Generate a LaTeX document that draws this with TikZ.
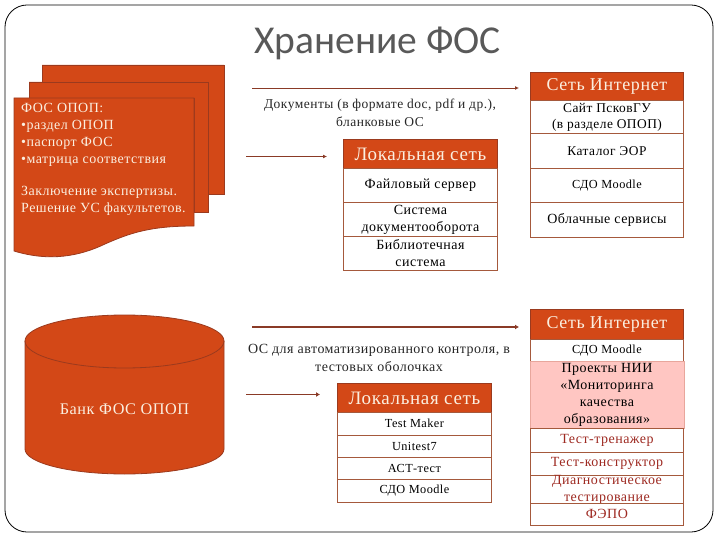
\documentclass[tikz,border=0pt]{standalone}
\usepackage{fontspec}
\usetikzlibrary{arrows.meta,calc}
\setmainfont[LetterSpace=3.5]{Liberation Serif}
\newfontfamily\titlefont{Carlito}
\definecolor{fosorange}{HTML}{D34817}
\definecolor{fosedge}{HTML}{9B3A1E}
\definecolor{fosline}{HTML}{A5593C}
\definecolor{fospink}{HTML}{FFC6C2}
\definecolor{fospinkline}{HTML}{E8A69C}
\definecolor{fosred}{HTML}{9E2A22}
\definecolor{foscream}{HTML}{FBEFE0}
\definecolor{fosarrow}{HTML}{8A3A26}
\tikzset{
  px/.style={x=1pt,y=-1pt},
  rowbox/.style={draw=fosline,line width=0.9pt,fill=white,inner sep=0pt,align=center,text=black,font=\fontsize{14}{17}\selectfont,anchor=north west},
  smallrow/.style={rowbox,font=\fontsize{12.3}{15}\selectfont},
  webrow/.style={rowbox,font=\fontsize{13.4}{16}\selectfont},
  headbox/.style={rowbox,fill=fosorange,draw=fosedge,text=foscream,font=\fontsize{18}{20}\selectfont},
  localhead/.style={headbox,font=\fontsize{19}{20}\selectfont},
  pinkbox/.style={rowbox,fill=fospink,draw=fospinkline},
  redbox/.style={rowbox,text=fosred},
  freetext/.style={align=center,inner sep=0pt,text=black!85,font=\fontsize{13.5}{18}\selectfont},
  doctext/.style={align=left,inner sep=0pt,text=foscream,font=\fontsize{14}{17}\selectfont,anchor=north west},
  page/.style={fill=fosorange,draw=fosedge,line width=0.8pt},
  thinarrow/.style={draw=fosarrow,line width=0.8pt,-{Latex[length=4pt,width=4pt]}},
  thickarrow/.style={draw=fosarrow,line width=1.6pt,-{Latex[length=4pt,width=5pt]}},
}
\newcommand{\rowat}[7]{\node[#1,minimum width=#5pt-#4pt,minimum height=#7pt-#6pt] (#2) at (#4,#6) {#3};}
\begin{document}
\begin{tikzpicture}[px]
\useasboundingbox (0,0) rectangle (720,540);
\draw[black,line width=0.8pt,rounded corners=22pt] (5,5) rectangle (713,532);
\node[inner sep=0pt,text=black!65,font=\titlefont\fontsize{39.5}{42}\selectfont] (title) at (377.5,43) {Хранение ФОС};
% stacked documents
\path[page] (42,65) -- (224,65) -- (224,194) -- (208,194) -- (208,82) -- (42,82) -- cycle;
\path[page] (29,82) -- (208,82) -- (208,212) -- (194,212) -- (194,98) -- (29,98) -- cycle;
\path[page] (14,98) -- (194,98) -- (194,226) .. controls (150,226) and (130,233) .. (105,244) .. controls (80,256) and (50,262) .. (14,251) -- cycle;
\node[doctext] (doc) at (21,103) {ФОС ОПОП:\\•раздел ОПОП\\•паспорт ФОС\\•матрица соответствия\\[15pt]Заключение экспертизы.\\Решение УС факультетов.};
% cylinder
\path[page] (25,341) -- (25,449) arc[start angle=180,end angle=360,x radius=99.5pt,y radius=25pt] -- (224,341) arc[start angle=0,end angle=180,x radius=99.5pt,y radius=26pt] -- cycle;
\draw[page,fill=none] (25,341) arc[start angle=180,end angle=360,x radius=99.5pt,y radius=27pt];
\node[inner sep=0pt,text=foscream,font=\fontsize{16.2}{18}\selectfont] (bank) at (124.5,409) {Банк ФОС ОПОП};
% free texts
\node[freetext] (docs) at (380,112.5) {Документы (в формате doc, pdf и др.),\\бланковые ОС};
\node[freetext,font=\fontsize{14}{18}\selectfont] (osauto) at (379,358) {ОС для автоматизированного контроля, в\\тестовых оболочках};
% upper right table
\rowat{headbox}{ra}{Сеть Интернет}{530}{683}{72}{100}
\rowat{webrow}{rb}{Сайт ПсковГУ\\(в разделе ОПОП)}{530}{683}{100}{133}
\rowat{webrow}{rc}{Каталог ЭОР}{530}{683}{133}{168}
\rowat{smallrow}{rd}{СДО Moodle}{530}{683}{168}{202.5}
\rowat{rowbox}{re}{Облачные сервисы}{530}{683}{202.5}{236.5}
% upper middle table
\rowat{localhead}{ma}{Локальная сеть}{343}{497}{139}{168}
\rowat{rowbox}{mb}{Файловый сервер}{343}{497}{168}{202}
\rowat{rowbox}{mc}{Система\\документооборота}{343}{497}{202}{236}
\rowat{rowbox}{md}{Библиотечная\\система}{343}{497}{236}{270}
% lower middle table
\rowat{localhead}{la}{Локальная сеть}{337}{491}{383}{412}
\rowat{smallrow}{lb}{Test Maker}{337}{491}{412}{434.5}
\rowat{smallrow}{lc}{Unitest7}{337}{491}{434.5}{457}
\rowat{smallrow}{ld}{АСТ-тест}{337}{491}{457}{479}
\rowat{smallrow}{le}{СДО Moodle}{337}{491}{479}{502}
% lower right table
\rowat{headbox}{ta}{Сеть Интернет}{530}{683}{309}{339}
\rowat{smallrow}{tb}{СДО Moodle}{530}{683}{339}{360.5}
\rowat{pinkbox}{tc}{Проекты НИИ\\«Мониторинга\\качества\\образования»}{529.5}{683.5}{360.5}{428}
\rowat{redbox}{td}{Тест-тренажер}{530}{683}{428}{451.5}
\rowat{redbox}{te}{Тест-конструктор}{530}{683}{451.5}{474.5}
\rowat{redbox}{tf}{Диагностическое\\тестирование}{530}{683}{474.5}{502.5}
\rowat{redbox}{tg}{ФЭПО}{530}{683}{502.5}{525}
% arrows
\coordinate (a1s) at (252,88); \coordinate (a1e) at (519,88);
\coordinate (a2s) at (246,156.5); \coordinate (a2e) at (327,156.5);
\coordinate (a3s) at (252,327); \coordinate (a3e) at (519,327);
\coordinate (a4s) at (246,394.5); \coordinate (a4e) at (320,394.5);
\draw[thinarrow] (a1s) -- (a1e);
\draw[thinarrow] (a2s) -- (a2e);
\draw[thickarrow] (a3s) -- (a3e);
\draw[thickarrow] (a4s) -- (a4e);
\end{tikzpicture}
\end{document}
